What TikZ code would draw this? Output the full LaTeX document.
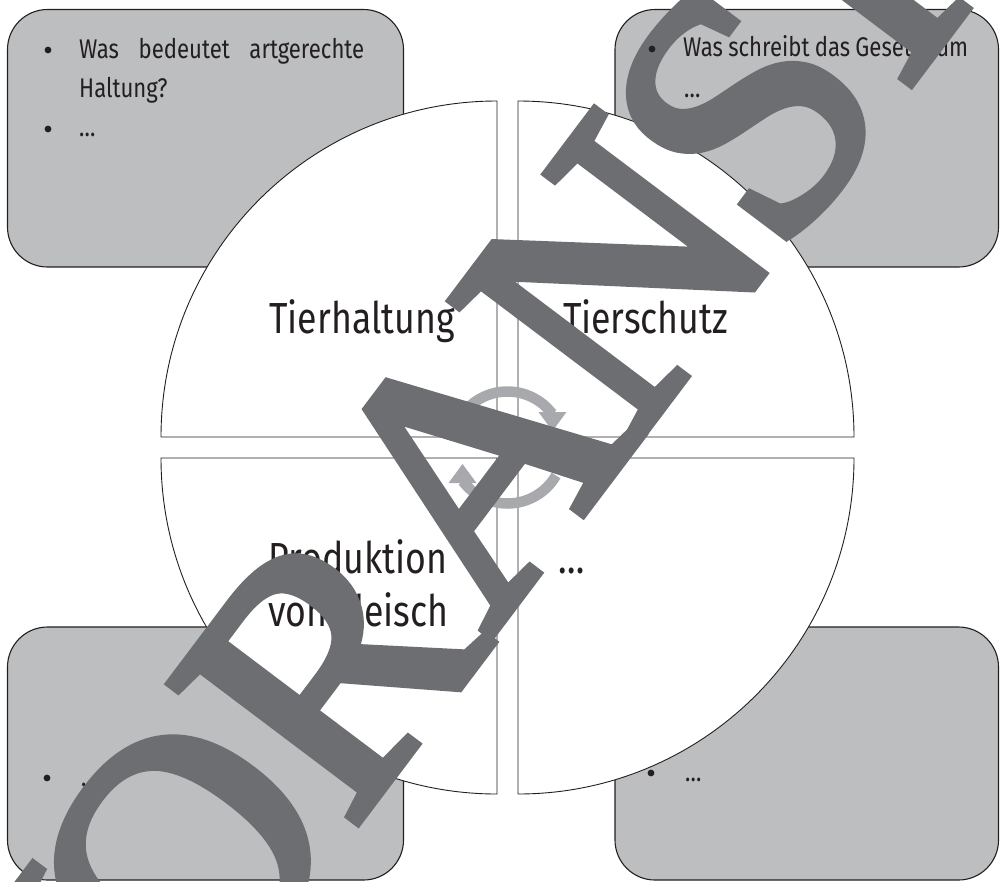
\documentclass[tikz,border=0pt]{standalone}
\usepackage{fontspec}
\IfFontExistsTF{FiraSans-Light.otf}{\setmainfont{FiraSans-Light.otf}[FakeStretch=0.82]}{\setmainfont{Fira Sans}[FakeStretch=0.82]}
\newfontfamily\wmfont{Liberation Serif}[FakeBold=2.8]
\definecolor{boxgray}{HTML}{BCBEC0}
\definecolor{ink}{HTML}{231F20}
\definecolor{ringgray}{HTML}{A7A9AC}
\definecolor{wmgray}{HTML}{6D6E71}
\begin{document}
\begin{tikzpicture}[x=1pt,y=-1pt,
  box/.style={fill=boxgray,draw=ink,line width=1.1pt,rounded corners=40pt},
  quad/.style={fill=white,draw=ink,line width=0.9pt},
  ring/.style={draw=ringgray,line width=10.5pt},
  tip/.style={fill=ringgray},
  dot/.style={fill=ink},
  lbl/.style={inner sep=0pt,text=ink,font=\fontsize{43.5}{52}\selectfont},
  itm/.style={inner sep=0pt,text=ink,font=\fontsize{27}{33}\selectfont,anchor=base west},
  wm/.style={inner sep=0pt,text=wmgray,font=\wmfont\fontsize{35.5}{36}\selectfont,rotate=53,scale=10,transform shape,anchor=base west}]
\useasboundingbox (0,0) rectangle (1000,881);
\begin{scope}
\clip (0,0) rectangle (1000,881);
% corner boxes
\draw[box] (7.5,9.5) rectangle (403.5,267);
\draw[box] (615,9.5) rectangle (998.5,267);
\draw[box] (7.5,627) rectangle (403.5,880);
\draw[box] (615,627) rectangle (998.5,880);
% quadrants
\path[quad] (497,437) -- (161,437) arc[start angle=180,end angle=270,radius=336] -- cycle;
\path[quad] (518,437) -- (518,101) arc[start angle=270,end angle=360,radius=336] -- cycle;
\path[quad] (497,458) -- (161,458) arc[start angle=180,end angle=90,radius=336] -- cycle;
\path[quad] (518,458) -- (854,458) arc[start angle=0,end angle=90,radius=336] -- cycle;
% cycle arrows
\draw[ring] (459,419.5) arc[start angle=-150,end angle=-37,radius=56];
\fill[tip] (538.5,412) -- (566.5,412) -- (552.5,431) -- cycle;
\draw[ring] (556,475.5) arc[start angle=30,end angle=143,radius=56];
\fill[tip] (448.5,483) -- (476.5,483) -- (462.5,464) -- cycle;
% quadrant labels
\node[lbl,anchor=base] (th) at (362,333) {Tierhaltung};
\node[lbl,anchor=base] (ts) at (645.5,333) {Tierschutz};
\node[lbl,anchor=base] (pr) at (358,573) {Produktion};
\node[lbl,anchor=base] (vf) at (358.5,626) {von Fleisch};
\node[lbl,anchor=base west] (dd) at (558,573) {…};
% box texts
\node[itm] (t1) at (79,58) {\makebox[285pt][s]{Was bedeutet artgerechte}};
\node[itm] (t2) at (79,97) {Haltung?};
\node[itm] (t3) at (79,136) {…};
\node[itm] (t4) at (683,56) {\makebox[285pt][s]{Was schreibt das Gesetz zum}};
\node[itm] (t5) at (684,97) {…};
\node[itm] (t6) at (81,786) {…};
\node[itm] (t7) at (685,781) {…};
% watermark
\node[wm] (wV) at (66,1208) {V};
\node[wm] (wO) at (197,1035) {O};
\node[wm] (wR) at (349,833) {R};
\node[wm] (wA) at (488,639) {A};
\node[wm] (wN) at (630,450) {N};
\node[wm] (wS) at (778,262) {S};
\node[wm] (wI) at (902,95) {I};
% bullets (drawn above the watermark, as in the reference)
\fill[dot] (48,50) circle[radius=3.4];
\fill[dot] (48,129) circle[radius=3.4];
\fill[dot] (652,49) circle[radius=3.4];
\fill[dot] (47,778) circle[radius=3.4];
\fill[dot] (651,773) circle[radius=3.4];
\end{scope}
\end{tikzpicture}
\end{document}
